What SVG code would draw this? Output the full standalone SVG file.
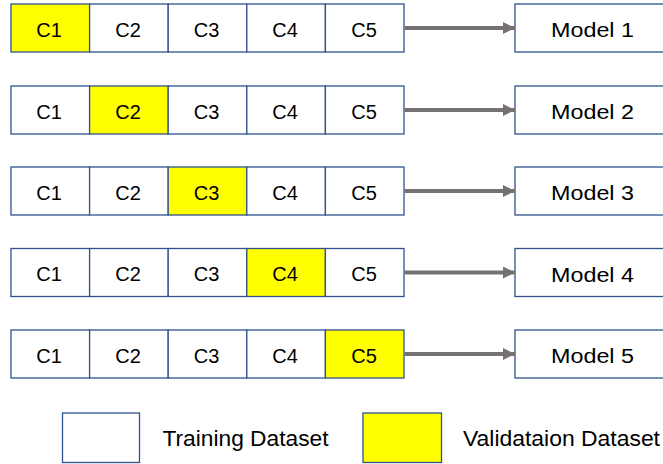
<svg xmlns="http://www.w3.org/2000/svg" width="663" height="464" viewBox="0 0 663 464">
  <defs>
    <style>
      .cell { fill: #ffffff; stroke: #2F528F; stroke-width: 1.3; }
      .val { fill: #FFFF00; stroke: #2F528F; stroke-width: 1.3; }
      .lbl { font-family: "Liberation Sans", Arial, sans-serif; font-size: 20px; fill: #000000; text-anchor: middle; }
      .mlbl { font-family: "Liberation Sans", Arial, sans-serif; font-size: 20px; fill: #000000; }
      .leg { font-family: "Liberation Sans", Arial, sans-serif; font-size: 22px; fill: #000000; }
      .arrow { stroke: #767171; stroke-width: 4; fill: none; }
    </style>
    <marker id="head" viewBox="0 0 12 12" refX="12" refY="6" markerWidth="12" markerHeight="12" markerUnits="userSpaceOnUse" orient="auto">
      <path d="M0,0 L12,6 L0,12 Z" fill="#767171"/>
    </marker>
  </defs>

  <!-- Fold 1 -->
  <g id="fold1">
    <rect class="val" x="11" y="4" width="78.6" height="48"/>
    <rect class="cell" x="89.6" y="4" width="78.6" height="48"/>
    <rect class="cell" x="168.2" y="4" width="78.6" height="48"/>
    <rect class="cell" x="246.8" y="4" width="78.6" height="48"/>
    <rect class="cell" x="325.4" y="4" width="78.6" height="48"/>
    <text class="lbl" x="49" y="36.5">C1</text>
    <text class="lbl" x="128" y="36.5">C2</text>
    <text class="lbl" x="206.5" y="36.5">C3</text>
    <text class="lbl" x="285" y="36.5">C4</text>
    <text class="lbl" x="364" y="36.5">C5</text>
  </g>
  <g id="model1">
    <rect class="cell" x="515" y="4" width="156" height="48"/>
    <text class="mlbl" x="551" y="37" textLength="83" lengthAdjust="spacingAndGlyphs">Model 1</text>
  </g>

  <!-- Fold 2 -->
  <g id="fold2">
    <rect class="cell" x="11" y="86" width="78.6" height="48"/>
    <rect class="val" x="89.6" y="86" width="78.6" height="48"/>
    <rect class="cell" x="168.2" y="86" width="78.6" height="48"/>
    <rect class="cell" x="246.8" y="86" width="78.6" height="48"/>
    <rect class="cell" x="325.4" y="86" width="78.6" height="48"/>
    <text class="lbl" x="49" y="118.5">C1</text>
    <text class="lbl" x="128" y="118.5">C2</text>
    <text class="lbl" x="206.5" y="118.5">C3</text>
    <text class="lbl" x="285" y="118.5">C4</text>
    <text class="lbl" x="364" y="118.5">C5</text>
  </g>
  <g id="model2">
    <rect class="cell" x="515" y="86" width="156" height="48"/>
    <text class="mlbl" x="551" y="119" textLength="83" lengthAdjust="spacingAndGlyphs">Model 2</text>
  </g>

  <!-- Fold 3 -->
  <g id="fold3">
    <rect class="cell" x="11" y="167" width="78.6" height="48"/>
    <rect class="cell" x="89.6" y="167" width="78.6" height="48"/>
    <rect class="val" x="168.2" y="167" width="78.6" height="48"/>
    <rect class="cell" x="246.8" y="167" width="78.6" height="48"/>
    <rect class="cell" x="325.4" y="167" width="78.6" height="48"/>
    <text class="lbl" x="49" y="199.5">C1</text>
    <text class="lbl" x="128" y="199.5">C2</text>
    <text class="lbl" x="206.5" y="199.5">C3</text>
    <text class="lbl" x="285" y="199.5">C4</text>
    <text class="lbl" x="364" y="199.5">C5</text>
  </g>
  <g id="model3">
    <rect class="cell" x="515" y="167" width="156" height="48"/>
    <text class="mlbl" x="551" y="200" textLength="83" lengthAdjust="spacingAndGlyphs">Model 3</text>
  </g>

  <!-- Fold 4 -->
  <g id="fold4">
    <rect class="cell" x="11" y="248.5" width="78.6" height="48"/>
    <rect class="cell" x="89.6" y="248.5" width="78.6" height="48"/>
    <rect class="cell" x="168.2" y="248.5" width="78.6" height="48"/>
    <rect class="val" x="246.8" y="248.5" width="78.6" height="48"/>
    <rect class="cell" x="325.4" y="248.5" width="78.6" height="48"/>
    <text class="lbl" x="49" y="281">C1</text>
    <text class="lbl" x="128" y="281">C2</text>
    <text class="lbl" x="206.5" y="281">C3</text>
    <text class="lbl" x="285" y="281">C4</text>
    <text class="lbl" x="364" y="281">C5</text>
  </g>
  <g id="model4">
    <rect class="cell" x="515" y="248.5" width="156" height="48"/>
    <text class="mlbl" x="551" y="281.5" textLength="83" lengthAdjust="spacingAndGlyphs">Model 4</text>
  </g>

  <!-- Fold 5 -->
  <g id="fold5">
    <rect class="cell" x="11" y="330" width="78.6" height="48"/>
    <rect class="cell" x="89.6" y="330" width="78.6" height="48"/>
    <rect class="cell" x="168.2" y="330" width="78.6" height="48"/>
    <rect class="cell" x="246.8" y="330" width="78.6" height="48"/>
    <rect class="val" x="325.4" y="330" width="78.6" height="48"/>
    <text class="lbl" x="49" y="362.5">C1</text>
    <text class="lbl" x="128" y="362.5">C2</text>
    <text class="lbl" x="206.5" y="362.5">C3</text>
    <text class="lbl" x="285" y="362.5">C4</text>
    <text class="lbl" x="364" y="362.5">C5</text>
  </g>
  <g id="model5">
    <rect class="cell" x="515" y="330" width="156" height="48"/>
    <text class="mlbl" x="551" y="363" textLength="83" lengthAdjust="spacingAndGlyphs">Model 5</text>
  </g>

  <!-- Connectors: fold to model -->
  <g id="connectors">
    <line class="arrow" x1="404.5" y1="28" x2="515" y2="28" marker-end="url(#head)"/>
    <line class="arrow" x1="404.5" y1="110" x2="515" y2="110" marker-end="url(#head)"/>
    <line class="arrow" x1="404.5" y1="191" x2="515" y2="191" marker-end="url(#head)"/>
    <line class="arrow" x1="404.5" y1="272.5" x2="515" y2="272.5" marker-end="url(#head)"/>
    <line class="arrow" x1="404.5" y1="354" x2="515" y2="354" marker-end="url(#head)"/>
  </g>

  <!-- Legend -->
  <g id="legend-training">
    <rect class="cell" x="62.5" y="413" width="77" height="49.5"/>
    <text class="leg" x="162.5" y="446" textLength="166" lengthAdjust="spacingAndGlyphs">Training Dataset</text>
  </g>
  <g id="legend-validation">
    <rect class="val" x="363" y="413" width="78.5" height="49.5"/>
    <text class="leg" x="463" y="446" textLength="197" lengthAdjust="spacingAndGlyphs">Validataion Dataset</text>
  </g>
</svg>
